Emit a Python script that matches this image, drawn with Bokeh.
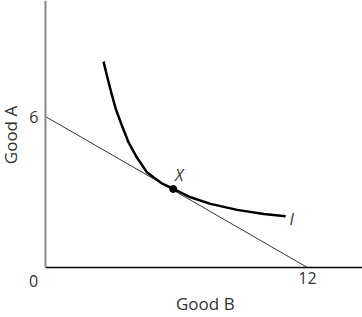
import math
from bokeh.plotting import figure
from bokeh.models import Range1d, FixedTicker, Label
from bokeh.embed import file_html
from bokeh.resources import INLINE

# data
budget_x = [0, 12]
budget_y = [6, 0]
curve_x = [2.66, 2.81, 3.01, 3.22, 3.50, 3.80, 4.18, 4.64, 5.35, 5.85, 6.64, 7.56, 8.78, 10.0, 11.0]
curve_y = [8.18, 7.63, 6.96, 6.30, 5.64, 4.98, 4.38, 3.79, 3.33, 3.13, 2.79, 2.53, 2.29, 2.13, 2.04]
point_x = [5.85]
point_y = [3.12]
x_tick_vals = [12]
y_tick_vals = [6]
origin_label = "0"
x_title = "Good B"
y_title = "Good A"
x_max = 14.52
y_max = 10.61

FONT = "Open Sans"
FS = "16px"
TFS = "17px"
TC = "#333333"

# the whole canvas is the frame; axes are fixed at 0 inside it
p = figure(width=362, height=317, output_backend="svg", toolbar_location=None,
           x_range=Range1d(-2.061, x_max), y_range=Range1d(-1.986, y_max),
           min_border=0)
p.outline_line_color = None
p.grid.visible = False
p.background_fill_color = "white"
p.border_fill_color = "white"

for ax in (p.xaxis[0], p.yaxis[0]):
    ax.fixed_location = 0
    ax.major_tick_line_color = None
    ax.minor_tick_line_color = None
    ax.major_tick_out = 0
    ax.major_tick_in = 0
    ax.minor_tick_out = 0
    ax.minor_tick_in = 0
    ax.major_label_text_font = FONT
    ax.major_label_text_font_size = FS
    ax.major_label_text_color = TC

p.xaxis.ticker = FixedTicker(ticks=x_tick_vals)
p.yaxis.ticker = FixedTicker(ticks=y_tick_vals)
p.xaxis.bounds = (0, x_max)
p.yaxis.bounds = (0, y_max)
p.xaxis.major_label_standoff = 4
p.yaxis.major_label_standoff = 7

p.xaxis.axis_line_color = "black"
p.xaxis.axis_line_width = 1.5
p.yaxis.axis_line_color = "#888888"
p.yaxis.axis_line_width = 2

p.line(budget_x, budget_y, line_color="#333333", line_width=1)
p.line(curve_x, curve_y, line_color="black", line_width=2.5, line_join="round")
p.scatter(point_x, point_y, size=7, color="black")

def lab(**kw):
    kw.setdefault("text_font", FONT)
    kw.setdefault("text_font_size", FS)
    kw.setdefault("text_color", TC)
    kw.setdefault("text_align", "center")
    kw.setdefault("text_baseline", "middle")
    p.add_layout(Label(**kw))

lab(x=0, y=0, x_offset=-12, y_offset=-13, text=origin_label)
lab(x=(x_tick_vals[0] + 0) * 0.61, y=0, y_offset=-36, text=x_title, text_font_size=TFS)
lab(x=0, y=y_max / 2, x_offset=-35, y_offset=-1, text=y_title, text_font_size=TFS,
    angle=math.pi / 2)

lab(x=point_x[0], y=point_y[0], text="X", x_offset=6, y_offset=14,
    text_font_style="italic")
lab(x=curve_x[-1], y=curve_y[-1], text="I", x_offset=6, y_offset=-3,
    text_font_style="italic")

open("out.html", "w").write(file_html(p, INLINE))
